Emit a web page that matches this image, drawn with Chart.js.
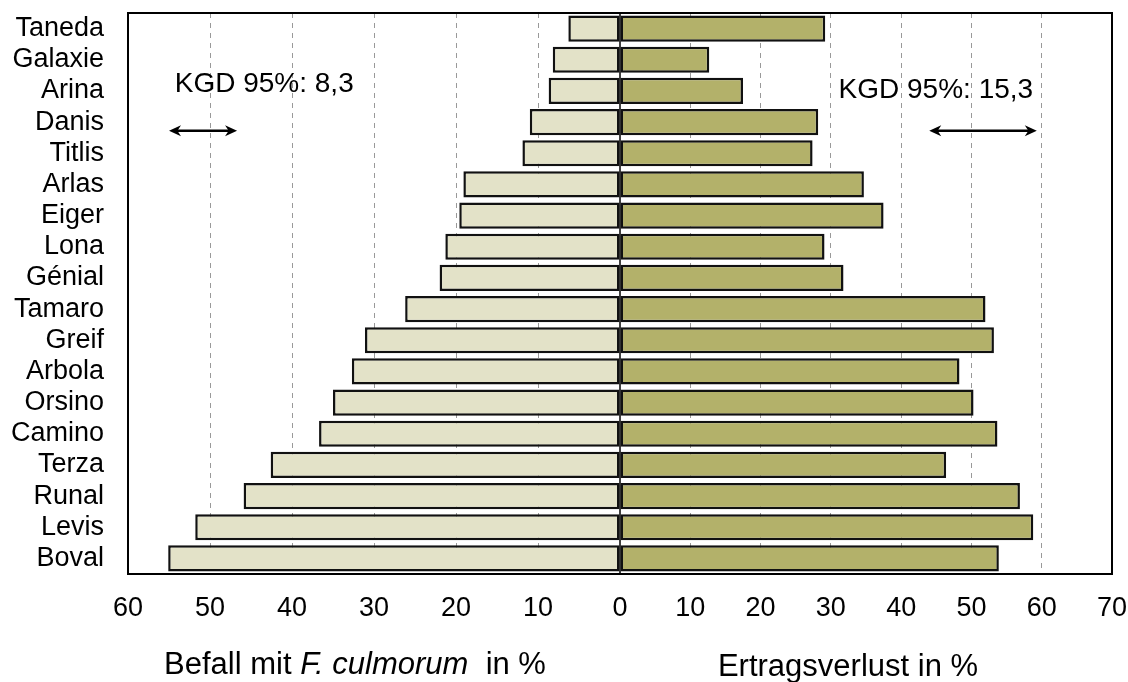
<!DOCTYPE html>
<html>
<head>
<meta charset="utf-8">
<script src="https://cdn.jsdelivr.net/npm/chart.js@4.4.1/dist/chart.umd.min.js"></script>
<style>
  body { margin: 0; background: #fff; }
  #wrap { width: 1128px; height: 682px; }
</style>
</head>
<body>
<div id="wrap"><canvas id="chart"></canvas></div>
<script>
const sorten = ['Taneda', 'Galaxie', 'Arina', 'Danis', 'Titlis', 'Arlas', 'Eiger', 'Lona', 'Génial',
  'Tamaro', 'Greif', 'Arbola', 'Orsino', 'Camino', 'Terza', 'Runal', 'Levis', 'Boval'];
const befall = [6.3, 8.2, 8.7, 11.0, 11.9, 19.1, 19.6, 21.3, 22.0,
  26.2, 31.1, 32.7, 35.0, 36.7, 42.6, 45.9, 51.8, 55.1];
const ertrag = [29.2, 12.7, 17.5, 28.2, 27.4, 34.7, 37.5, 29.1, 31.8,
  52.0, 53.2, 48.3, 50.3, 53.7, 46.4, 56.9, 58.8, 53.9];
const befallRange = [0, 60];
const ertragRange = [0, 70];
const tickStep = 10;
const kgdTexte = ['KGD 95%: 8,3', 'KGD 95%: 15,3'];
const kgdWerte = [8.3, 15.3];
const kgdStart = [55, 44];

const schrift = 'Liberation Sans, Arial, Helvetica, sans-serif';

function pfeil(ctx, xa, xb, y) {
  const x1 = Math.min(xa, xb), x2 = Math.max(xa, xb);
  const h = 12, w = 5.5;
  ctx.lineWidth = 2.5;
  ctx.beginPath();
  ctx.moveTo(x1 + 6, y);
  ctx.lineTo(x2 - 6, y);
  ctx.stroke();
  [[x1, 1], [x2, -1]].forEach(([x, d]) => {
    ctx.beginPath();
    ctx.moveTo(x, y);
    ctx.lineTo(x + d * h, y - w);
    ctx.lineTo(x + d * h * 0.7, y);
    ctx.lineTo(x + d * h, y + w);
    ctx.closePath();
    ctx.fill();
  });
}

const rahmen = {
  id: 'rahmen',
  afterDatasetsDraw(chart) {
    const { ctx, chartArea: a, scales } = chart;
    ctx.save();
    ctx.strokeStyle = '#000';
    ctx.fillStyle = '#000';
    const x0 = scales.xl.getPixelForValue(0);
    ctx.lineWidth = 1.5;
    ctx.beginPath();
    ctx.moveTo(x0, a.top);
    ctx.lineTo(x0, a.bottom);
    ctx.stroke();
    ctx.lineWidth = 2;
    ctx.strokeRect(a.left, a.top, a.width, a.height);

    // KGD Pfeile
    const yPfeil = scales.y.getPixelForValue(3.28);
    pfeil(ctx, scales.xl.getPixelForValue(kgdStart[0]), scales.xl.getPixelForValue(kgdStart[0] - kgdWerte[0]), yPfeil);
    pfeil(ctx, scales.xr.getPixelForValue(kgdStart[1]), scales.xr.getPixelForValue(kgdStart[1] + kgdWerte[1]), yPfeil);

    ctx.font = '28px ' + schrift;
    ctx.textBaseline = 'middle';
    ctx.textAlign = 'left';
    ctx.fillText(kgdTexte[0], scales.xl.getPixelForValue(54.3), scales.y.getPixelForValue(1.78));
    ctx.fillText(kgdTexte[1], scales.xr.getPixelForValue(31.1), scales.y.getPixelForValue(1.97));
    ctx.restore();
  },
  afterDraw(chart) {
    const { ctx, scales } = chart;
    ctx.save();
    ctx.fillStyle = '#000';
    ctx.textBaseline = 'middle';
    ctx.textAlign = 'left';
    const y = 665;
    // linker Achsentitel mit kursivem Teil
    const teile = [['Befall mit ', ''], ['F. culmorum', 'italic '], ['  in %', '']];
    let breite = 0;
    teile.forEach(([t, s]) => { ctx.font = s + '31px ' + schrift; breite += ctx.measureText(t).width; });
    let x = (scales.xl.left + scales.xl.right) / 2 - 19 - breite / 2;
    teile.forEach(([t, s]) => {
      ctx.font = s + '31px ' + schrift;
      ctx.fillText(t, x, y);
      x += ctx.measureText(t).width;
    });
    ctx.font = '31px ' + schrift;
    ctx.textAlign = 'center';
    ctx.fillText('Ertragsverlust in %', (scales.xr.left + scales.xr.right) / 2 - 18, y + 2);
    ctx.restore();
  }
};

function gitterFarbe(max) {
  return c => (c.tick && (c.tick.value === 0 || c.tick.value === max)) ? 'rgba(0,0,0,0)' : '#999';
}

const tickFont = { family: schrift, size: 27 };

new Chart(document.getElementById('chart'), {
  type: 'bar',
  data: {
    labels: sorten,
    datasets: [{
      label: 'Befall mit F. culmorum in %',
      data: befall,
      xAxisID: 'xl',
      backgroundColor: '#e3e2c8',
      borderColor: '#111',
      borderWidth: 2.5,
      borderSkipped: false,
      grouped: false,
      barPercentage: 0.84,
      categoryPercentage: 1
    }, {
      label: 'Ertragsverlust in %',
      data: ertrag,
      xAxisID: 'xr',
      backgroundColor: '#b3b16a',
      borderColor: '#111',
      borderWidth: 2.5,
      borderSkipped: false,
      grouped: false,
      barPercentage: 0.84,
      categoryPercentage: 1
    }]
  },
  options: {
    indexAxis: 'y',
    responsive: true,
    maintainAspectRatio: false,
    animation: false,
    layout: { padding: { top: 13, right: 16, left: 0, bottom: 0 } },
    plugins: { legend: { display: false }, tooltip: { enabled: false } },
    scales: {
      y: {
        type: 'category',
        grid: { display: false },
        border: { display: false },
        ticks: { color: '#000', font: tickFont, padding: 16, autoSkip: false },
        afterFit(s) { s.width = 128; s.paddingTop = 0; s.paddingBottom = 0; }
      },
      xl: {
        type: 'linear',
        position: 'bottom',
        stack: 'unten',
        stackWeight: 492,
        reverse: true,
        min: befallRange[0],
        max: befallRange[1],
        grid: { drawTicks: false, color: gitterFarbe(befallRange[1]), lineWidth: 1 },
        border: { display: false, dash: [5, 5] },
        ticks: { stepSize: tickStep, color: '#000', font: tickFont, padding: 18, maxRotation: 0, autoSkip: false },
        afterFit(s) { s.height = 108; s.paddingLeft = 0; s.paddingRight = 0; }
      },
      xr: {
        type: 'linear',
        position: 'bottom',
        stack: 'unten',
        stackWeight: 492,
        min: ertragRange[0],
        max: ertragRange[1],
        grid: { drawTicks: false, color: gitterFarbe(ertragRange[1]), lineWidth: 1 },
        border: { display: false, dash: [5, 5] },
        ticks: { stepSize: tickStep, color: '#000', font: tickFont, padding: 18, maxRotation: 0, autoSkip: false,
          callback: v => v === 0 ? '' : v },
        afterFit(s) { s.height = 108; s.paddingLeft = 0; s.paddingRight = 0; }
      }
    }
  },
  plugins: [rahmen]
});
</script>
</body>
</html>
